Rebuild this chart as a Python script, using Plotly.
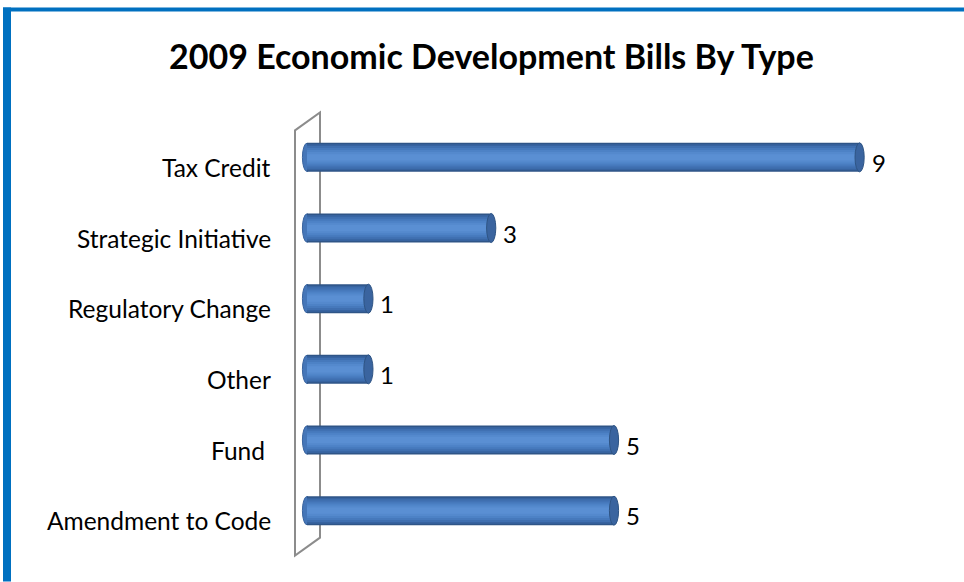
import plotly.graph_objects as go

categories = ["Tax Credit", "Strategic Initiative", "Regulatory Change", "Other", "Fund\u00a0", "Amendment to Code"]
values = [9, 3, 1, 1, 5, 5]
title_text = "2009 Economic Development Bills By Type"

W, H = 964, 582
ML, MR, MT, MB = 280, 43, 121.6, 35.6
PW, PH = W - ML - MR, H - MT - MB
X0PX = 307           # pixel of value 0
XMAX = 10
XMIN = -(X0PX - ML) * XMAX / (W - MR - X0PX)
YR = [5.5, -0.5]

def px_x(px):
    return (px - ML) / PW

def px_y(py):
    return (H - MB - py) / PH

def dx(px):
    return px * (XMAX - XMIN) / PW

fig = go.Figure()

idx = list(range(len(categories)))
bar_w = 0.41
layers = [
    (1.00, "#2F5587"),
    (0.90, "#3763A0"),
    (0.78, "#3F6FB0"),
    (0.64, "#4679BC"),
    (0.50, "#4D82C6"),
    (0.36, "#5489CD"),
    (0.22, "#5A8FD3"),
]
for frac, col in layers:
    fig.add_trace(go.Bar(
        y=idx, x=values, orientation="h", width=bar_w * frac,
        marker=dict(color=col, line=dict(width=0)),
        hoverinfo="skip", showlegend=False,
    ))

shapes = []
# back wall panel
shapes.append(dict(
    type="path", xref="paper", yref="paper", layer="below",
    path=(f"M {px_x(295)},{px_y(130)} L {px_x(320)},{px_y(112)} "
          f"L {px_x(320)},{px_y(538)} L {px_x(295)},{px_y(556)} Z"),
    line=dict(color="#8C8C8C", width=2), fillcolor="rgba(0,0,0,0)",
))

cap = dx(4.6)
for i, v in zip(idx, values):
    shapes.append(dict(type="circle", xref="x", yref="y", layer="below",
                       x0=-cap, x1=cap, y0=i - bar_w / 2 + 0.005, y1=i + bar_w / 2 - 0.005,
                       fillcolor="#4576B8", line=dict(color="#3A649F", width=1)))
    shapes.append(dict(type="circle", xref="x", yref="y", layer="above",
                       x0=v - cap, x1=v + cap, y0=i - bar_w / 2, y1=i + bar_w / 2,
                       fillcolor="#3A649F", line=dict(color="#2E5484", width=1)))

# blue frame (top and left)
shapes.append(dict(type="rect", xref="paper", yref="paper",
                   x0=px_x(3), x1=px_x(W), y0=px_y(11), y1=px_y(7),
                   fillcolor="#0070C0", line=dict(width=0)))
shapes.append(dict(type="rect", xref="paper", yref="paper",
                   x0=px_x(3), x1=px_x(11), y0=px_y(H), y1=px_y(7),
                   fillcolor="#0070C0", line=dict(width=0)))

annotations = []
for i, c in zip(idx, categories):
    annotations.append(dict(x=0, y=i, xref="x", yref="y", text=c, showarrow=False,
                            xanchor="right", yanchor="middle", xshift=-34, yshift=-10,
                            font=dict(family="Lato", size=24.5, color="#000000")))
for i, v in zip(idx, values):
    annotations.append(dict(x=v, y=i, xref="x", yref="y", text=str(v), showarrow=False,
                            xanchor="left", yanchor="middle", xshift=10, yshift=-5,
                            font=dict(family="Lato", size=24, color="#000000")))
annotations.append(dict(x=px_x(491), y=px_y(55), xref="paper", yref="paper",
                        text=f"<b>{title_text}</b>", showarrow=False,
                        xanchor="center", yanchor="middle",
                        font=dict(family="Lato", size=34, color="#000000")))

fig.update_layout(
    width=W, height=H,
    margin=dict(l=ML, r=MR, t=MT, b=MB),
    paper_bgcolor="white", plot_bgcolor="rgba(0,0,0,0)",
    barmode="overlay",
    xaxis=dict(range=[XMIN, XMAX], visible=False, fixedrange=True),
    yaxis=dict(range=YR, visible=False, fixedrange=True),
    shapes=shapes, annotations=annotations,
)

fig.write_html("out.html", config={"displayModeBar": False})
